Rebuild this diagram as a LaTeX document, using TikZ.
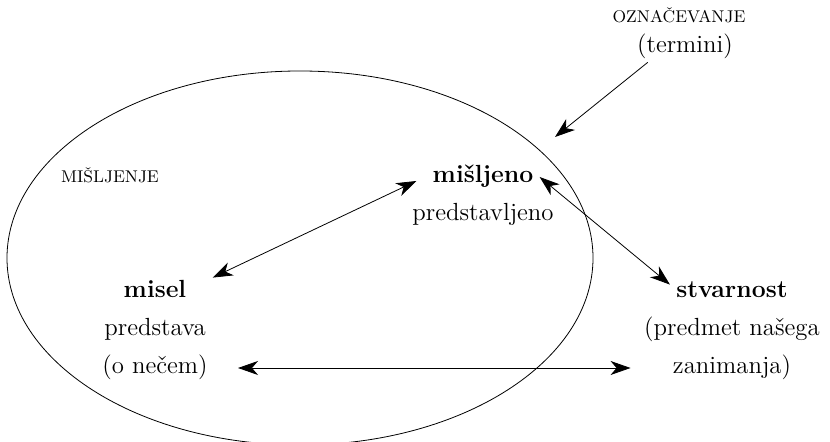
\documentclass[tikz,border=0pt]{standalone}
\usepackage{tikz}
\usetikzlibrary{arrows.meta,positioning}

\begin{document}
\begin{tikzpicture}[
    x=0.5pt,
    y=-0.5pt,
    node distance=19pt,
    >={Stealth[length=10pt,width=7pt,inset=3pt]},
    font=\fontsize{12.4}{15}\selectfont,
    word/.style={
		inner sep=0pt,
		text height=9pt,
		text depth=3pt
	},
	head/.style={
		word,
		font=\fontsize{12.4}{15}\selectfont\bfseries
	},
	caps/.style={
		word,
		font=\fontsize{8.5}{10}\selectfont
	},
	link/.style={
		thin,
		<->
	}
  ]
  \useasboundingbox (0,0) rectangle (830,442);

    % the area of thinking
  \draw [thin] (300,258) ellipse [x radius=146.5pt, y radius=93.5pt];

  \node [caps] (misljenje) at (110,177) {MIŠLJENJE};

    % naming, top right
  \node [caps] (oznac) at (679,17) {OZNAČEVANJE};
  \node [word] (termini) at (685,47) {(termini)};
  \coordinate (tip) at (555,137);

    % then the three blocks
  \node [head] (misljeno) at (483,177) {mišljeno};
  \node [word, below of=misljeno] (predstavljeno) {predstavljeno};

  \node [head] (misel) at (155,292) {misel};
  \node [word, below of=misel] (predstava) {predstava};
  \node [word, below of=predstava] (onecem) {(o nečem)};

  \node [head] (stvarnost) at (732,292) {stvarnost};
  \node [word, below of=stvarnost] (predmet) {(predmet našega};
  \node [word, below of=predmet] (zanimanja) {zanimanja)};

 \draw [thin,->] ([xshift=5.5pt, yshift=-1.5pt]termini.south west) -- (tip);
 \draw [link] ([xshift=13pt, yshift=1pt]misel.north east) -- ([xshift=-8pt, yshift=-2pt]misljeno.west);
 \draw [link] ([xshift=3pt]misljeno.east) -- ([xshift=-3pt, yshift=-2.5pt]stvarnost.north west);
 \draw [link] ([xshift=15pt]onecem.east) -- ([xshift=-21pt]zanimanja.west);

\end{tikzpicture}
\end{document}
